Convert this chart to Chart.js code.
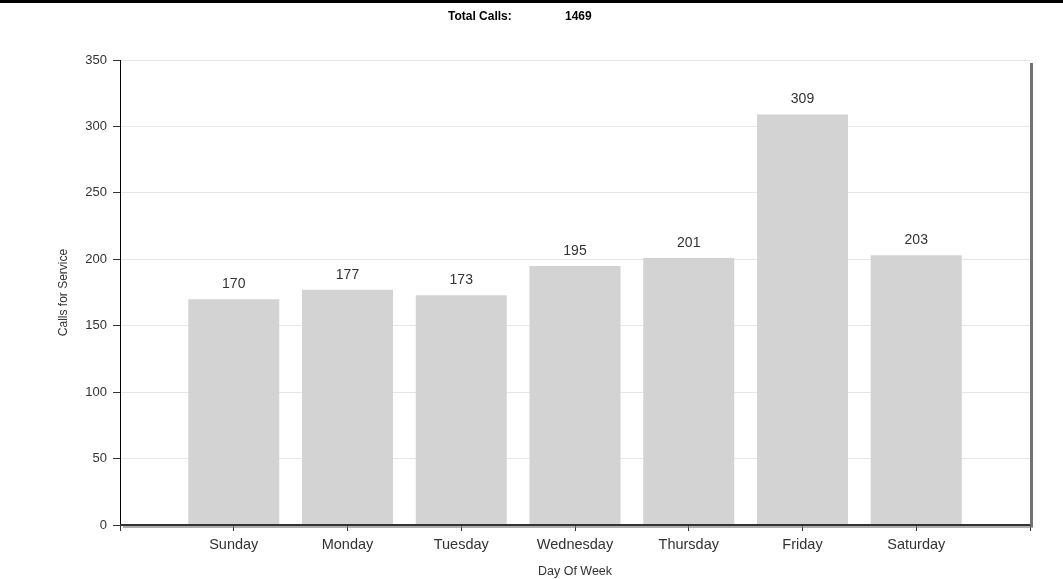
<!DOCTYPE html>
<html>
<head>
<meta charset="utf-8">
<script src="https://cdn.jsdelivr.net/npm/chart.js@4"></script>
<style>
  body { margin: 0; background: #fff; }
  #wrap { width: 1063px; height: 579px; position: relative; }
</style>
</head>
<body>
<div id="wrap"><canvas id="chart"></canvas></div>
<script>
const days = ['Sunday', 'Monday', 'Tuesday', 'Wednesday', 'Thursday', 'Friday', 'Saturday'];
const calls = [170, 177, 173, 195, 201, 309, 203];
const totalCalls = 1469;
const yTicks = [0, 50, 100, 150, 200, 250, 300, 350];

const FONT = '"Liberation Sans", Arial, sans-serif';

// empty slot on each side so bars sit between the axis ends
const labels = [''].concat(days, ['']);
const values = [null].concat(calls, [null]);

const decor = {
  id: 'decor',
  afterDraw(chart) {
    const ctx = chart.ctx;
    const a = chart.chartArea;
    ctx.save();
    // top black band
    ctx.fillStyle = '#000';
    ctx.fillRect(0, 0, chart.width, 3);

    // header
    ctx.fillStyle = '#000';
    ctx.font = 'bold 12px ' + FONT;
    ctx.textBaseline = 'middle';
    ctx.textAlign = 'left';
    ctx.fillText('Total Calls:', 448, 17);
    ctx.fillText(String(totalCalls), 565, 17);

    // right edge shadow
    ctx.strokeStyle = 'rgba(90,90,90,0.85)';
    ctx.lineWidth = 3;
    ctx.beginPath();
    ctx.moveTo(a.right + 1.5, a.top + 3);
    ctx.lineTo(a.right + 1.5, a.bottom + 2);
    ctx.stroke();

    // bottom axis, thick with shadow
    ctx.strokeStyle = 'rgba(120,120,120,0.6)';
    ctx.lineWidth = 2;
    ctx.beginPath();
    ctx.moveTo(a.left + 3, a.bottom + 2);
    ctx.lineTo(a.right + 3, a.bottom + 2);
    ctx.stroke();
    ctx.strokeStyle = '#333';
    ctx.lineWidth = 2;
    ctx.beginPath();
    ctx.moveTo(a.left, a.bottom);
    ctx.lineTo(a.right, a.bottom);
    ctx.stroke();

    // value labels
    ctx.fillStyle = '#333';
    ctx.font = '14px ' + FONT;
    ctx.textAlign = 'center';
    ctx.textBaseline = 'middle';
    chart.getDatasetMeta(0).data.forEach((bar, i) => {
      if (values[i] == null) return;
      ctx.fillText(String(values[i]), bar.x, bar.y - 15);
    });
    ctx.restore();
  }
};

new Chart(document.getElementById('chart'), {
  type: 'bar',
  data: {
    labels: labels,
    datasets: [{
      data: values,
      backgroundColor: '#d3d3d3',
      borderWidth: 0,
      barPercentage: 0.8,
      categoryPercentage: 1.0
    }]
  },
  options: {
    responsive: true,
    maintainAspectRatio: false,
    animation: false,
    layout: { padding: { top: 60, right: 33, left: 0, bottom: 0 } },
    plugins: {
      legend: { display: false },
      tooltip: { enabled: false },
      title: { display: false }
    },
    scales: {
      x: {
        offset: false,
        grid: {
          offset: false,
          drawOnChartArea: false,
          tickLength: 6,
          tickColor: '#333'
        },
        border: { color: '#333', width: 1 },
        ticks: {
          color: '#333',
          font: { family: FONT, size: 14.5 },
          padding: 5,
          maxRotation: 0,
          autoSkip: false
        },
        title: {
          display: true,
          text: 'Day Of Week',
          color: '#333',
          font: { family: FONT, size: 12.5 },
          padding: { top: 0, bottom: 0 }
        },
        afterFit(scale) { scale.height = 54; }
      },
      y: {
        min: 0,
        max: 350,
        afterBuildTicks(scale) { scale.ticks = yTicks.map(v => ({ value: v })); },
        grid: {
          color: '#e6e6e6',
          tickColor: '#333',
          tickLength: 7
        },
        border: { color: '#000', width: 1 },
        ticks: {
          color: '#333',
          font: { family: FONT, size: 13 },
          padding: 6
        },
        title: {
          display: true,
          text: 'Calls for Service',
          color: '#333',
          font: { family: FONT, size: 12 },
          padding: { top: 56, bottom: 0 }
        },
        afterFit(scale) { scale.width = 120; }
      }
    }
  },
  plugins: [decor]
});
</script>
</body>
</html>
